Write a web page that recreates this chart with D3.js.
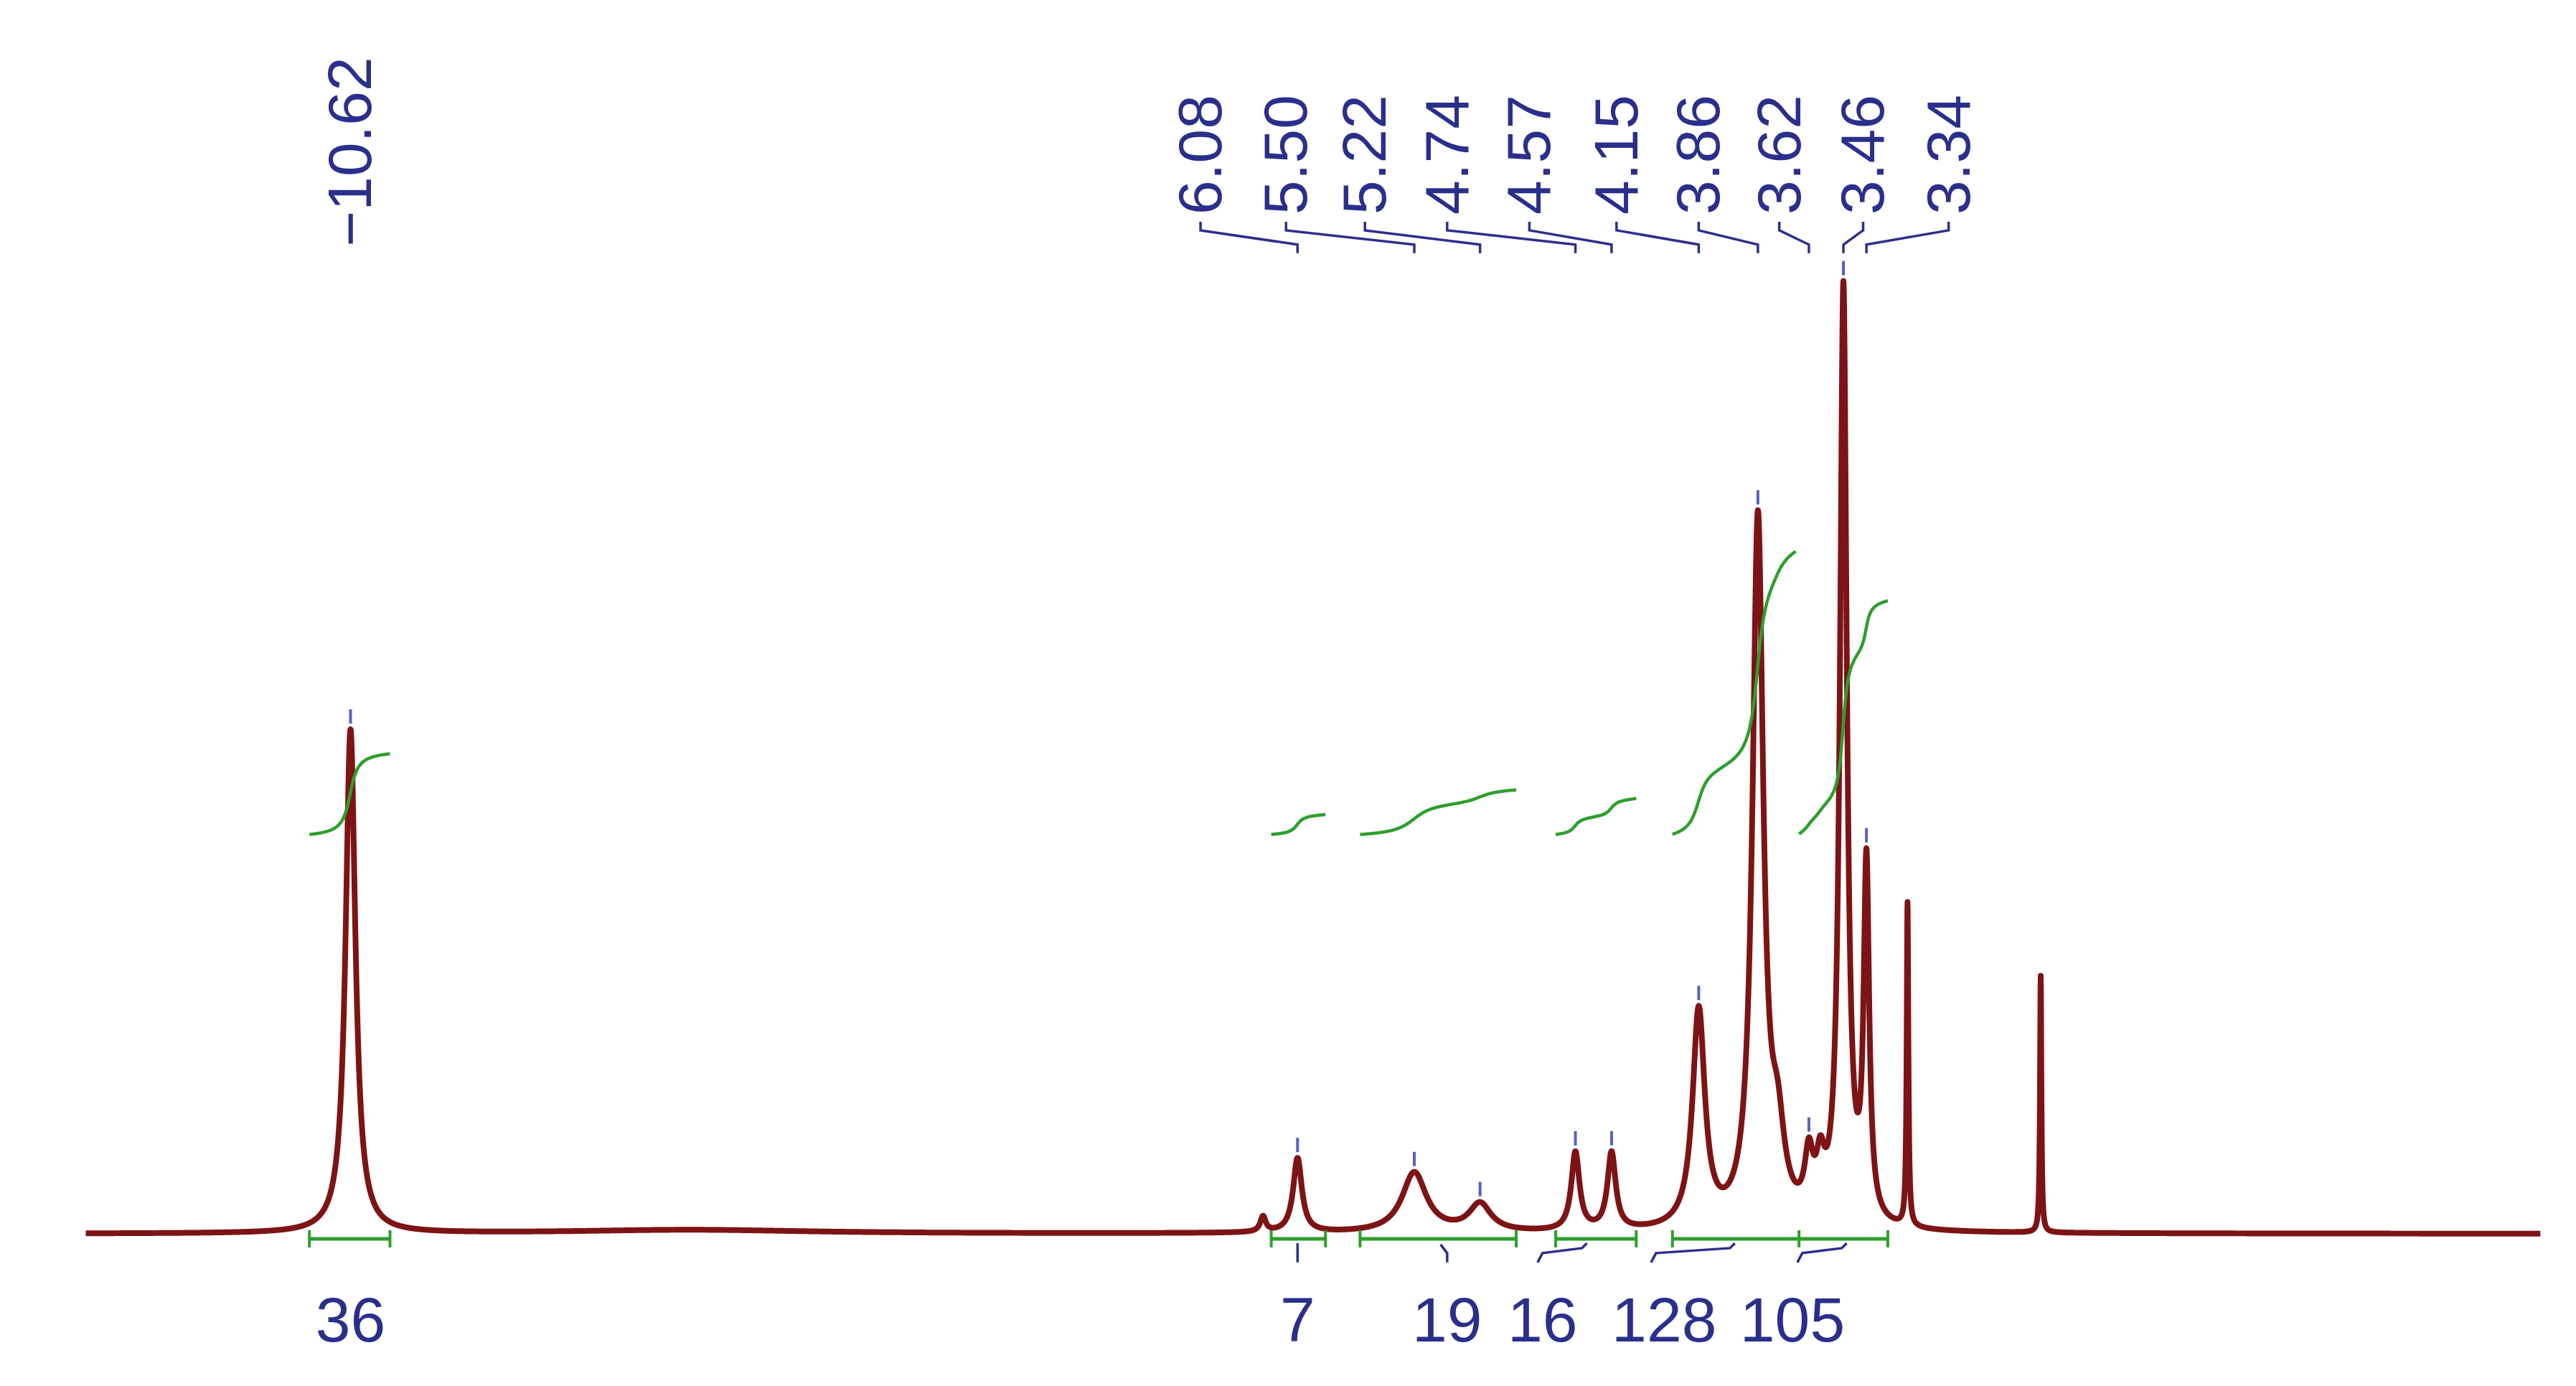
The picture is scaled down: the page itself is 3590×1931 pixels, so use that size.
<!DOCTYPE html>
<html>
<head>
<meta charset="utf-8">
<script src="https://cdn.jsdelivr.net/npm/d3@7"></script>
<style>
  body { margin: 0; background: #fff; }
  svg { display: block; }
</style>
</head>
<body>
<script>
// peaks: position (chart units), height (% of tallest), half width
var peakPos    = [213, 768, 789, 860, 900, 958, 980, 1033, 1069, 1081, 1100, 1107, 1121, 1135, 1160, 1241, 420];
var peakHeight = [53.0, 1.6, 7.8, 6.3, 2.9, 8.2, 8.1, 22.8, 74.2, 8.0, 6.0, 5.0, 98.5, 37.0, 34.0, 27.0, 0.4];
var peakWidth  = [3.6, 2.0, 3.2, 9, 8, 3.0, 3.0, 4.5, 4.0, 5, 3, 3, 2.5, 2.0, 0.6, 0.5, 90];

// peak labels (top)
var shiftLabels = ["6.08", "5.50", "5.22", "4.74", "4.57", "4.15", "3.86", "3.62", "3.46", "3.34"];
var shiftLabelX = [730, 782, 830, 880, 930, 983, 1033, 1082, 1133, 1185];
var shiftPeakX  = [789, 860, 900, 958, 980, 1033, 1069, 1100, 1121, 1135];

// integrals
var intStart = [188, 773, 827, 946, 1017, 1094];
var intEnd   = [237, 806, 922, 995, 1092, 1148];
var intRise  = [8.5, 2.1, 4.7, 3.8, 29.8, 24.6];
var intBase  = 42;
var intLabels = ["36", "7", "19", "16", "128", "105"];
var intLabelX = [213, 789, 880, 938, 1012, 1090];

var W = 3590, H = 1931;
var blue = "#2a2f8c", red = "#7d1315", green = "#2e9e2e";
var font = "Liberation Sans, Arial, sans-serif";

var svg = d3.select("body").append("svg").attr("width", W).attr("height", H)
  .append("g").attr("transform", "scale(0.9965)");

var x = d3.scaleLinear().domain([52, 1545]).range([120, 3553]);
var y = d3.scaleLinear().domain([0, 100]).range([1725, 396]);

function spec(p) {
  var s = 0;
  for (var i = 0; i < peakPos.length; i++) {
    var d = (p - peakPos[i]) / peakWidth[i];
    s += peakHeight[i] / (1 + d * d);
  }
  return s;
}

var pts = d3.range(52, 1545, 0.1).map(function(p) { return [p, spec(p)]; });

svg.append("path")
  .datum(pts)
  .attr("fill", "none")
  .attr("stroke", red)
  .attr("stroke-width", 8)
  .attr("stroke-linejoin", "round")
  .attr("d", d3.line().x(function(d) { return x(d[0]); }).y(function(d) { return y(d[1]); }));

// peak markers
shiftPeakX.concat([213]).forEach(function(p) {
  var top = y(spec(p));
  svg.append("line").attr("x1", x(p)).attr("x2", x(p))
    .attr("y1", top - 8).attr("y2", top - 28)
    .attr("stroke", "#5a5fc0").attr("stroke-width", 4);
});

// top labels
svg.append("text")
  .attr("transform", "translate(" + (x(213) + 29) + "," + 345 + ") rotate(-90)")
  .attr("font-family", font)
  .attr("font-size", 86).attr("fill", blue)
  .text("\u221210.62");

shiftLabels.forEach(function(t, i) {
  svg.append("text")
    .attr("transform", "translate(" + (x(shiftLabelX[i]) + 29) + "," + 300 + ") rotate(-90)")
    .attr("font-family", font)
    .attr("font-size", 86).attr("fill", blue)
    .text(t);
  var lx = x(shiftLabelX[i]), px = x(shiftPeakX[i]);
  svg.append("path")
    .attr("d", "M" + lx + ",310 L" + lx + ",322 L" + px + ",342 L" + px + ",354")
    .attr("fill", "none").attr("stroke", blue).attr("stroke-width", 3.5);
});

// integral curves
intStart.forEach(function(a, i) {
  var b = intEnd[i];
  var xs = d3.range(a, b + 0.01, 0.5);
  var cum = 0, vals = xs.map(function(p) { cum += spec(p); return cum; });
  var tot = cum;
  var line = xs.map(function(p, j) { return [p, intBase + intRise[i] * vals[j] / tot]; });
  svg.append("path").datum(line)
    .attr("fill", "none").attr("stroke", green).attr("stroke-width", 4.5)
    .attr("d", d3.line().curve(d3.curveBasis).x(function(d) { return x(d[0]); }).y(function(d) { return y(d[1]); }));
});

// integral bars under the baseline
var barY = 1732;
var barStart = [188, 773, 827, 946, 1017];
var barEnd = [237, 806, 922, 995, 1148];
var barTicks = [188, 237, 773, 806, 827, 922, 946, 995, 1017, 1094, 1148];
barStart.forEach(function(a, i) {
  svg.append("line").attr("x1", x(a)).attr("x2", x(barEnd[i]))
    .attr("y1", barY).attr("y2", barY)
    .attr("stroke", green).attr("stroke-width", 5);
});
barTicks.forEach(function(p) {
  svg.append("line").attr("x1", x(p)).attr("x2", x(p))
    .attr("y1", barY - 12).attr("y2", barY + 12)
    .attr("stroke", green).attr("stroke-width", 4);
});

// little blue connectors
svg.append("line").attr("x1", x(789)).attr("x2", x(789)).attr("y1", 1738).attr("y2", 1765)
  .attr("stroke", blue).attr("stroke-width", 3.5);
svg.append("path").attr("d", "M" + x(876) + ",1740 L" + x(880) + ",1752 L" + x(880) + ",1765")
  .attr("fill", "none").attr("stroke", blue).attr("stroke-width", 3.5);
[[935, 965], [1004, 1055], [1093, 1123]].forEach(function(s) {
  svg.append("path")
    .attr("d", "M" + x(s[0]) + ",1765 L" + x(s[0] + 3) + ",1752 L" + x(s[1] - 3) + ",1745 L" + x(s[1]) + ",1738")
    .attr("fill", "none").attr("stroke", blue).attr("stroke-width", 3.5);
});

intLabels.forEach(function(t, i) {
  svg.append("text")
    .attr("x", x(intLabelX[i])).attr("y", 1876)
    .attr("text-anchor", "middle")
    .attr("font-family", font)
    .attr("font-size", 88).attr("fill", blue)
    .text(t);
});
</script>
</body>
</html>
